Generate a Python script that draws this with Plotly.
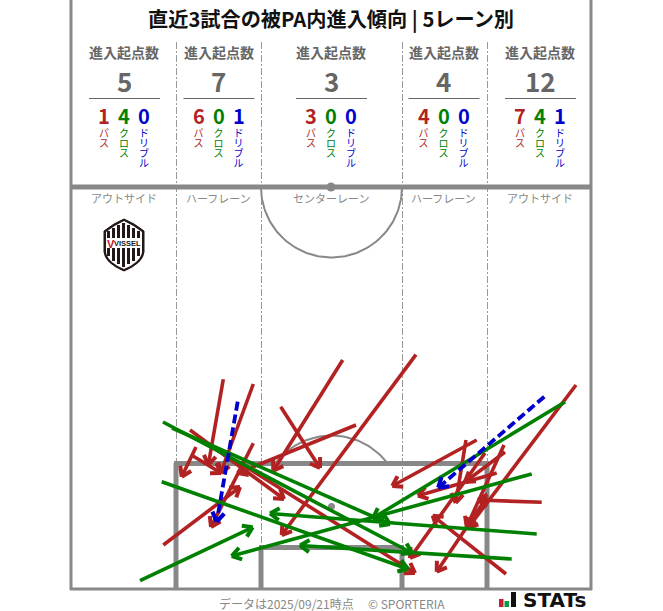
import numpy as np
import plotly.graph_objects as go

W, H = 663, 611
TITLE = "直近3試合の被PA内進入傾向 | 5レーン別"
FOOTER_DATE = "データは2025/09/21時点"
FOOTER_COPY = "© SPORTERIA"
LANE_NAMES = ["アウトサイド", "ハーフレーン", "センターレーン", "ハーフレーン", "アウトサイド"]
LANE_X = [124, 218.5, 331, 443.5, 540]
TOTALS = [5, 7, 3, 4, 12]
PASS = [1, 6, 3, 4, 7]
CROSS = [4, 0, 0, 0, 4]
DRIBBLE = [0, 1, 0, 0, 1]

# start x, start y, end x, end y on the picture's scale
RED_X0 = [223.3, 253.3, 190, 196, 193, 253.3, 356, 163.3, 240, 342.7, 280.7, 416, 476.7, 466, 485, 505, 496.7, 541.7, 576, 504, 506, 487]
RED_Y0 = [379.3, 384, 430, 447, 456, 443.3, 425, 545, 463, 360, 406.7, 354.7, 440, 440, 453, 452, 473, 502.3, 385, 445, 574, 497]
RED_X1 = [208.3, 220.7, 284, 181.7, 221, 211, 238, 240, 415, 273.3, 320, 281.7, 392.3, 455.7, 410, 465, 418, 478, 468, 466.7, 432.7, 436.7]
RED_Y1 = [465, 473, 499, 476.7, 473, 527, 473, 487, 573, 470.7, 468, 535, 486, 503, 558, 482, 495.7, 500, 528, 526.7, 515.7, 571.7]
GREEN_X0 = [163, 172, 161.7, 140, 565, 531.7, 536.7, 511.7]
GREEN_Y0 = [422, 428, 481.7, 580.7, 402, 474, 534, 559]
GREEN_X1 = [412, 390, 408, 252.7, 373, 231.7, 270, 300]
GREEN_Y1 = [553, 524, 569, 527.3, 518, 556, 513.5, 545.5]
BLUE_X0 = [237.7, 544.3]
BLUE_Y0 = [401.7, 396.7]
BLUE_X1 = [216.7, 438.3]
BLUE_Y1 = [521.7, 487.7]

GRAY = "#888888"
TXT = "#666666"
RED, GREEN, BLUE = "#B22222", "#008000", "#0000CD"
FONT = "Noto Sans CJK JP"

fig = go.Figure()


def line_shape(x0, y0, x1, y1, width, color=GRAY, dash=None):
    fig.add_shape(type="line", x0=x0, y0=y0, x1=x1, y1=y1, layer="below",
                  line=dict(color=color, width=width, dash=dash))


def text(x, y, s, size, color, bold=False, family=FONT):
    fig.add_annotation(x=x, y=y, text=f"<b>{s}</b>" if bold else s, showarrow=False,
                       font=dict(family=family, size=size, color=color),
                       xanchor="center", yanchor="middle")


# pitch
for x in (176.5, 261.5, 402.5, 487.5):
    line_shape(x, 42, x, 589, 1, "#999999", "7px,2px,2px,2px")
line_shape(71, 0, 71, 590, 3)
line_shape(591, 0, 591, 590, 3)
line_shape(70, 589, 592, 589, 3)
line_shape(71, 187, 591, 187, 5)
line_shape(176, 589, 176, 463, 5)
line_shape(487, 589, 487, 463, 5)
line_shape(174, 463.5, 489, 463.5, 5)
line_shape(261, 589, 261, 547, 5)
line_shape(402, 589, 402, 547, 5)
line_shape(259, 547.5, 404, 547.5, 5)
fig.add_shape(type="circle", x0=326.5, y0=182.5, x1=335.5, y1=191.5, layer="below",
              fillcolor=GRAY, line_width=0)
fig.add_shape(type="circle", x0=328, y0=503, x1=335, y1=510, layer="below",
              fillcolor=GRAY, line_width=0)

t = np.linspace(0, np.pi, 90)
fig.add_trace(go.Scatter(x=331.5 + 70.5 * np.cos(t), y=187 + 70.5 * np.sin(t), mode="lines",
                         line=dict(color=GRAY, width=2), hoverinfo="skip"))
a0 = np.arcsin((506 - 463) / 70.5)
t = np.linspace(a0, np.pi - a0, 60)
fig.add_trace(go.Scatter(x=331.5 + 70.5 * np.cos(t), y=506 - 70.5 * np.sin(t), mode="lines",
                         line=dict(color=GRAY, width=2), hoverinfo="skip"))

# header block
text(331, 18, TITLE, 20.2, "#111111", True)
char_x, char_y, char_t, char_c = [], [], [], []
for i, cx in enumerate(LANE_X):
    text(cx, 51.5, "進入起点数", 14, TXT, True)
    text(cx, 80.5, str(TOTALS[i]), 26, TXT, True)
    line_shape(cx - 35, 98.5, cx + 36, 98.5, 1.2, TXT)
    text(cx, 198, LANE_NAMES[i], 11, GRAY)
    for off, val, label, col in ((-20, PASS[i], "パス", RED),
                                 (0, CROSS[i], "クロス", GREEN),
                                 (20, DRIBBLE[i], "ドリブル", BLUE)):
        text(cx + off, 115.5, str(val), 20, col, True)
        for k, ch in enumerate(label):
            char_x.append(cx + off)
            char_y.append(134 + k * 10)
            char_t.append(ch)
            char_c.append(col)
fig.add_trace(go.Scatter(x=char_x, y=char_y, text=char_t, mode="text", hoverinfo="skip",
                         textfont=dict(family=FONT, size=10, color=char_c)))


def arrows(x0s, y0s, x1s, y1s, color, width=3.6, dash=None, head=11, spread=np.radians(33)):
    sx, sy, hx, hy = [], [], [], []
    for x0, y0, x1, y1 in zip(x0s, y0s, x1s, y1s):
        sx += [x0, x1, None]
        sy += [y0, y1, None]
        ang = np.arctan2(y0 - y1, x0 - x1)
        for sgn in (-1, 1):
            hx += [x1 + head * np.cos(ang + sgn * spread), x1, None]
            hy += [y1 + head * np.sin(ang + sgn * spread), y1, None]
    fig.add_trace(go.Scatter(x=sx, y=sy, mode="lines", hoverinfo="skip",
                             line=dict(color=color, width=width, dash=dash)))
    fig.add_trace(go.Scatter(x=hx, y=hy, mode="lines", hoverinfo="skip",
                             line=dict(color=color, width=width + 0.4)))


arrows(RED_X0, RED_Y0, RED_X1, RED_Y1, RED)
arrows(GREEN_X0, GREEN_Y0, GREEN_X1, GREEN_Y1, GREEN)
arrows(BLUE_X0, BLUE_Y0, BLUE_X1, BLUE_Y1, BLUE, width=3.8, dash="9px,4px")

# crest
SHIELD = "M104,231 Q114,223 124,219 Q134,223 144,231 L144,252 Q143,263 124,271 Q105,263 104,252 Z"
fig.add_shape(type="path", path=SHIELD, fillcolor="#231815", line=dict(color="#231815", width=1))
INNER = "M106,232 Q115,225 124,221 Q133,225 142,232 L142,252 Q141,262 124,269 Q107,262 106,252 Z"
fig.add_shape(type="path", path=INNER, fillcolor="#ffffff", line_width=0)
for sx, top, bot in ((108.5, 231, 256), (113.5, 228, 261), (118.5, 225, 264), (123.5, 223, 267),
                     (128.5, 225, 264), (133.5, 228, 261), (138.5, 231, 256)):
    fig.add_shape(type="line", x0=sx, y0=top, x1=sx, y1=bot,
                  line=dict(color="#231815", width=3))
fig.add_shape(type="rect", x0=106, y0=238, x1=142, y1=248, fillcolor="#ffffff", line_width=0)
text(127, 243, "VISSEL", 7.5, "#231815", True, "Liberation Sans")
text(111, 244, "V", 11, "#C8102E", True, "Liberation Sans")

# footer
text(286, 603.5, FOOTER_DATE, 12, GRAY)
text(406, 603.5, FOOTER_COPY, 12, GRAY)
for x0, x1, y0, col in ((499, 503.5, 599, "#C8202F"), (504.5, 509, 601, "#0A9A48"), (511, 516, 592, "#111111")):
    fig.add_shape(type="rect", x0=x0, x1=x1, y0=y0, y1=607, fillcolor=col, line_width=0)
text(554, 599.5, "STATs", 20, "#111111", True, "DejaVu Sans")

fig.update_layout(width=W, height=H, margin=dict(l=0, r=0, t=0, b=0), showlegend=False,
                  paper_bgcolor="white", plot_bgcolor="white",
                  xaxis=dict(range=[0, W], visible=False, fixedrange=True),
                  yaxis=dict(range=[H, 0], visible=False, fixedrange=True))
fig.write_html("out.html", config={"displayModeBar": False},
               post_script="document.body.style.margin='0';document.documentElement.style.overflow='hidden';")
